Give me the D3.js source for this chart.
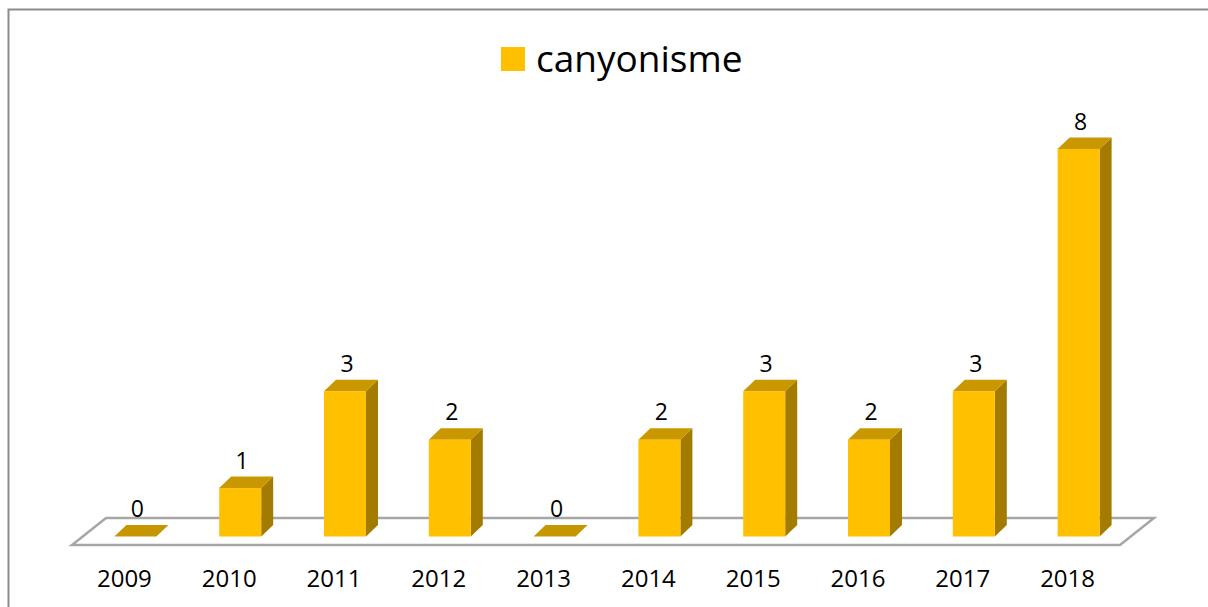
<!DOCTYPE html>
<html>
<head>
<meta charset="utf-8">
<script src="https://cdn.jsdelivr.net/npm/d3@7"></script>
<style>
  html, body { margin: 0; padding: 0; background: #fff; }
  svg { display: block; }
  text { font-family: "Open Sans", "Noto Sans", sans-serif; fill: #000; }
</style>
</head>
<body>
<svg id="chart" width="1208" height="607"></svg>
<script>
// chart data
const years = ['2009', '2010', '2011', '2012', '2013', '2014', '2015', '2016', '2017', '2018'];
const counts = [0, 1, 3, 2, 0, 2, 3, 2, 3, 8];
const seriesName = 'canyonisme';

const svg = d3.select('#chart');
const width = 1208, height = 607;

// outer frame (right and bottom edges run off the picture)
svg.append('rect')
  .attr('x', 8.5).attr('y', 9.5)
  .attr('width', width + 10).attr('height', height + 10)
  .attr('fill', '#fff')
  .attr('stroke', '#8c8c8c')
  .attr('stroke-width', 2);

// 3d geometry
const floor = { left: 72, right: 1120, front: 545, depthX: 34, depthY: -27 };
const barDx = 12, barDy = -11.5, barW = 42, barShift = 11;

const x = d3.scaleBand()
  .domain(years)
  .range([floor.left, floor.right]);

const y = d3.scaleLinear()
  .domain([0, 8])
  .range([536.5, 149]);

// floor plane
const fl = [
  [floor.left, floor.front],
  [floor.right, floor.front],
  [floor.right + floor.depthX, floor.front + floor.depthY],
  [floor.left + floor.depthX, floor.front + floor.depthY]
];
svg.append('path')
  .attr('d', d3.line()(fl) + 'Z')
  .attr('fill', '#fff')
  .attr('stroke', '#a6a6a6')
  .attr('stroke-width', 2.5)
  .attr('stroke-linejoin', 'miter');

const data = years.map((yr, i) => ({ year: yr, value: counts[i] }));

const bars = svg.append('g').selectAll('g')
  .data(data)
  .enter().append('g');

bars.each(function(d) {
  const g = d3.select(this);
  const x0 = x(d.year) + x.bandwidth() / 2 + barShift - barW / 2;
  const x1 = x0 + barW;
  const yb = y(0), yt = y(d.value);
  if (d.value === 0) {
    g.append('path')
      .attr('d', d3.line()([[x0, yb], [x1, yb], [x1 + barDx, yb + barDy], [x0 + barDx, yb + barDy]]) + 'Z')
      .attr('fill', '#c59600');
    return;
  }
  // side face
  g.append('path')
    .attr('d', d3.line()([[x1, yb], [x1 + barDx, yb + barDy], [x1 + barDx, yt + barDy], [x1, yt]]) + 'Z')
    .attr('fill', '#a37b00');
  // top face
  g.append('path')
    .attr('d', d3.line()([[x0, yt], [x1, yt], [x1 + barDx, yt + barDy], [x0 + barDx, yt + barDy]]) + 'Z')
    .attr('fill', '#c99800');
  // front face
  g.append('rect')
    .attr('x', x0).attr('y', yt)
    .attr('width', barW).attr('height', yb - yt)
    .attr('fill', '#ffc000');
});

// value labels
bars.append('text')
  .attr('x', d => x(d.year) + x.bandwidth() / 2 + barShift + barDx / 2 - 4)
  .attr('y', d => y(d.value) + barDy - 8)
  .attr('text-anchor', 'middle')
  .attr('font-size', 23)
  .text(d => d.value);

// category labels
svg.append('g').selectAll('text')
  .data(years)
  .enter().append('text')
  .attr('x', d => x(d) + x.bandwidth() / 2)
  .attr('y', 587)
  .attr('text-anchor', 'middle')
  .attr('font-size', 24)
  .text(d => d);

// legend
const legend = svg.append('g').attr('transform', 'translate(501,47)');
legend.append('rect')
  .attr('width', 24).attr('height', 24)
  .attr('fill', '#ffc000');
legend.append('text')
  .attr('x', 35).attr('y', 25)
  .attr('font-size', 37)
  .text(seriesName);
</script>
</body>
</html>
